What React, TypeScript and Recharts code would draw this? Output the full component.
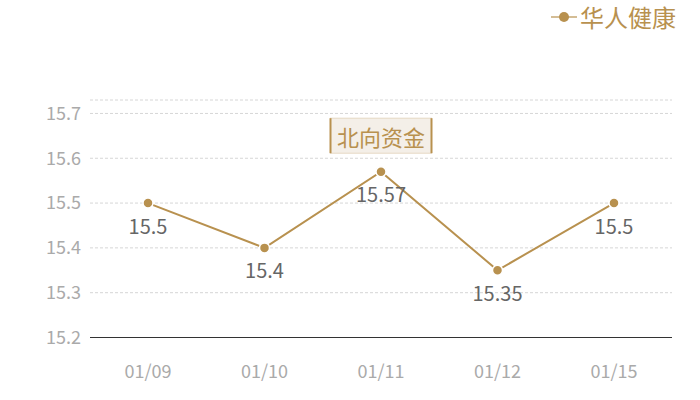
import React from "react";
import {
  LineChart,
  Line,
  XAxis,
  YAxis,
  ReferenceLine,
  ReferenceDot,
  LabelList,
} from "recharts";

const categories = ["01/09", "01/10", "01/11", "01/12", "01/15"];
const values = [15.5, 15.4, 15.57, 15.35, 15.5];
const yTicks = [15.2, 15.3, 15.4, 15.5, 15.6, 15.7];
const yMin = 15.2;
const yMax = 15.73;
const seriesName = "华人健康";
const markName = "北向资金";
const markCategory = "01/11";
const markValue = 15.57;

const data = categories.map((c, i) => ({ date: c, value: values[i] }));
const gridValues = [...yTicks.filter((t) => t > yMin), yMax];

const GOLD = "#b8914f";
const FONT = "'Noto Sans CJK SC', 'Noto Sans', sans-serif";

const LegendBox = () => (
  <div
    style={{
      position: "absolute",
      top: 3,
      right: 24,
      display: "flex",
      alignItems: "center",
      fontFamily: FONT,
      color: GOLD,
      fontSize: 24,
      lineHeight: "28px",
    }}
  >
    <svg width={26} height={14} style={{ marginRight: 3 }}>
      <line x1={0} y1={7} x2={26} y2={7} stroke={GOLD} strokeWidth={1.2} />
      <circle cx={13} cy={7} r={5} fill={GOLD} />
    </svg>
    <span>{seriesName}</span>
  </div>
);

const MarkShape = (props: any) => {
  const { cx, cy } = props;
  const w = 101;
  const h = 35;
  const x = cx - w / 2;
  const y = cy - 18.5 - h;
  return (
    <g>
      <rect x={x} y={y} width={w} height={h} fill="#f4efe8" stroke="#e6d8c3" strokeWidth={1} />
      <line x1={x} y1={y} x2={x} y2={y + h} stroke={GOLD} strokeWidth={2} />
      <line x1={x + w} y1={y} x2={x + w} y2={y + h} stroke={GOLD} strokeWidth={2} />
      <text
        x={cx}
        y={y + h / 2}
        textAnchor="middle"
        dominantBaseline="central"
        fill={GOLD}
        fontSize={22}
        fontFamily={FONT}
      >
        {markName}
      </text>
    </g>
  );
};

const renderValueLabel = (props: any) => {
  const { x, y, value } = props;
  return (
    <text
      x={x}
      y={y + 22}
      textAnchor="middle"
      dominantBaseline="central"
      fill="#666"
      fontSize={20}
      fontFamily={FONT}
    >
      {value}
    </text>
  );
};

export default function App() {
  return (
    <div style={{ position: "absolute", left: 0, top: 0, width: 700, height: 400, background: "#fff" }}>
      <LineChart
        width={700}
        height={400}
        data={data}
        margin={{ top: 100, right: 28, bottom: 0, left: 28 }}
      >
        {gridValues.map((v) => (
          <ReferenceLine key={v} y={v} stroke="#d6d6d6" strokeDasharray="3 2" />
        ))}
        <XAxis
          dataKey="date"
          padding={{ left: 58, right: 58 }}
          stroke="#333"
          axisLine={{ stroke: "#333", strokeWidth: 1, strokeOpacity: 1 }}
          tickLine={false}
          tickSize={0}
          tickMargin={28}
          height={62.5}
          tick={{ fill: "#aaa", fontSize: 18, fontFamily: FONT }}
        />
        <YAxis
          domain={[yMin, yMax]}
          ticks={yTicks}
          axisLine={false}
          tickLine={false}
          tickSize={0}
          tickMargin={9}
          width={62}
          tick={{ fill: "#aaa", fontSize: 18, fontFamily: FONT }}
        />
        <Line
          type="linear"
          dataKey="value"
          name={seriesName}
          stroke={GOLD}
          strokeWidth={2}
          dot={{ r: 5, fill: GOLD, stroke: "#fff", strokeWidth: 1.5 }}
          activeDot={false}
          isAnimationActive={false}
        >
          <LabelList dataKey="value" content={renderValueLabel} />
        </Line>
        <ReferenceDot
          x={markCategory}
          y={markValue}
          r={0}
          ifOverflow="visible"
          shape={<MarkShape />}
        />
      </LineChart>
      <LegendBox />
    </div>
  );
}
